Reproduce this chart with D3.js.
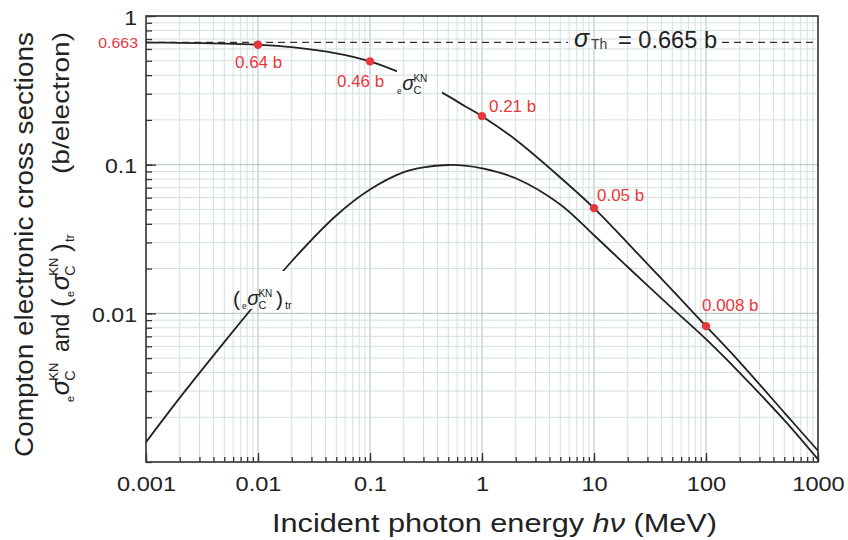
<!DOCTYPE html>
<html><head><meta charset="utf-8">
<script src="https://cdn.jsdelivr.net/npm/d3@7"></script>
<style>
body{margin:0;background:#fff}
svg{display:block}
text{font-family:"Liberation Sans",Arial,Helvetica,sans-serif;fill:#222}
</style>
</head><body>
<svg id="c" width="848" height="540"></svg>
<script>
// ---------- data ----------
const energies = [0.001,0.002,0.005,0.01,0.02,0.05,0.1,0.2,0.3,0.5,0.7,1,2,5,10,20,50,100,200,500,1000];
const sigmaKN  = [0.663,0.660,0.652,0.640,0.617,0.561,0.495,0.407,0.355,0.289,0.248,0.212,0.147,0.082,0.051,0.0297,0.0143,0.0082,0.0047,0.00215,0.00119];
const sigmaTr  = [0.00136,0.0027,0.0064,0.0121,0.0224,0.0455,0.068,0.089,0.096,0.0995,0.0985,0.0945,0.081,0.054,0.0335,0.0205,0.0108,0.0067,0.00398,0.00191,0.00104];
const xTickValues = [0.001,0.01,0.1,1,10,100,1000];
const xTickLabels = ["0.001","0.01","0.1","1","10","100","1000"];
const yTickValues = [1,0.1,0.01];
const yTickLabels = ["1","0.1","0.01"];
const markerEnergies = [0.01,0.1,1,10,100];
const markerValues   = [0.64,0.495,0.212,0.051,0.0082];
const markerLabels   = ["0.64 b","0.46 b","0.21 b","0.05 b","0.008 b"];
const thomsonValue = 0.665;
const thomsonLowLabel = "0.663";

// ---------- layout ----------
const X0 = 146, X1 = 818, Y0 = 462, Y1 = 16;
const RED = "#e8383d", INK = "#222";
const svg = d3.select("#c");
const x = d3.scaleLog().domain([0.001,1000]).range([X0,X1]);
const y = d3.scaleLog().domain([0.001,1]).range([Y0,Y1]);
const defs = svg.append("defs");
defs.append("clipPath").attr("id","plot").append("rect")
  .attr("x",X0).attr("y",Y1).attr("width",X1-X0).attr("height",Y0-Y1);
function makeMask(id, holes){
  const m = defs.append("mask").attr("id",id).attr("maskUnits","userSpaceOnUse")
    .attr("x",0).attr("y",0).attr("width",848).attr("height",540);
  m.append("rect").attr("width",848).attr("height",540).attr("fill","white");
  holes.forEach(h=>m.append("rect").attr("x",h[0]).attr("y",h[1]).attr("width",h[2]).attr("height",h[3]).attr("fill","black"));
}
makeMask("mKN", [[397,60,45,40]]);
makeMask("mTr", [[238,271,64,38]]);
makeMask("mTh", [[568,28,154,28]]);

// ---------- grid ----------
const isMajor = v => Math.abs(Math.log10(v) - Math.round(Math.log10(v))) < 1e-6;
const grid = svg.append("g");
grid.selectAll("line.gx").data(x.ticks()).join("line")
  .attr("x1",d=>x(d)).attr("x2",d=>x(d)).attr("y1",Y1).attr("y2",Y0)
  .attr("stroke",d=>isMajor(d)?"#aebfbf":"#d4e0e0").attr("stroke-width",1);
grid.selectAll("line.gy").data(y.ticks()).join("line")
  .attr("y1",d=>y(d)).attr("y2",d=>y(d)).attr("x1",X0).attr("x2",X1)
  .attr("stroke",d=>isMajor(d)?"#aebfbf":"#d4e0e0").attr("stroke-width",1);

// ---------- axes ----------
const gx = svg.append("g").attr("transform",`translate(0,${Y0})`);
gx.append("g").call(d3.axisBottom(x).tickValues(x.ticks()).tickSize(-5).tickFormat(""));
gx.append("g").call(d3.axisBottom(x).tickValues(xTickValues).tickSize(-9).tickFormat((d,i)=>xTickLabels[i]));
gx.selectAll(".domain").remove();
gx.selectAll("line").attr("stroke","#333").attr("stroke-width",1.3);
gx.selectAll("text").attr("y",null).attr("dy",null)
  .attr("transform","translate(0,29) scale(1.18,1)")
  .attr("font-size",20).attr("fill",INK).attr("font-family",null);

const gy = svg.append("g").attr("transform",`translate(${X0},0)`);
gy.append("g").call(d3.axisLeft(y).tickValues(y.ticks()).tickSize(-6).tickFormat(""));
gy.append("g").call(d3.axisLeft(y).tickValues(yTickValues).tickSize(-10).tickFormat((d,i)=>yTickLabels[i]));
gy.selectAll(".domain").remove();
gy.selectAll("line").attr("stroke","#333").attr("stroke-width",1.3);
gy.selectAll("text").attr("x",null).attr("dy",null)
  .attr("transform","translate(-9,8) scale(1.1,1)")
  .attr("font-size",21).attr("fill",INK).attr("font-family",null);

svg.append("rect").attr("x",X0).attr("y",Y1).attr("width",X1-X0).attr("height",Y0-Y1)
  .attr("fill","none").attr("stroke","#3a3a3a").attr("stroke-width",1.6);

// ---------- Thomson line ----------
svg.append("line").attr("x1",X0).attr("x2",X1-3).attr("y1",y(thomsonValue)).attr("y2",y(thomsonValue))
  .attr("stroke","#333").attr("stroke-width",1.3).attr("stroke-dasharray","7,5")
  .attr("mask","url(#mTh)");

// ---------- curves ----------
const line = d3.line().x(d=>x(d[0])).y(d=>y(d[1])).curve(d3.curveCatmullRom.alpha(0.5));
const plot = svg.append("g").attr("clip-path","url(#plot)");
plot.append("path").datum(energies.map((e,i)=>[e,sigmaKN[i]])).attr("d",line)
  .attr("fill","none").attr("stroke",INK).attr("stroke-width",1.8).attr("mask","url(#mKN)");
plot.append("path").datum(energies.map((e,i)=>[e,sigmaTr[i]])).attr("d",line)
  .attr("fill","none").attr("stroke",INK).attr("stroke-width",1.8).attr("mask","url(#mTr)");

// ---------- markers ----------
const labOff = [[-23,23],[-33,26],[7,-4],[3,-7],[-4,-15]];
svg.selectAll("circle.m").data(markerEnergies).join("circle")
  .attr("cx",d=>x(d)).attr("cy",(d,i)=>y(markerValues[i])).attr("r",4.2).attr("fill",RED);
markerEnergies.forEach((e,i)=>{
  svg.append("g").attr("transform",`translate(${x(e)+labOff[i][0]},${y(markerValues[i])+labOff[i][1]}) scale(1.06,1)`)
    .append("text").attr("font-size",16).style("fill",RED).text(markerLabels[i]);
});
svg.append("g").attr("transform",`translate(138,${y(thomsonValue)+6}) scale(1.06,1)`)
  .append("text").attr("text-anchor","end").attr("font-size",15).style("fill",RED).text(thomsonLowLabel);

// ---------- sigma symbol helper ----------
function sigmaSym(g, u, v, fs){
  g.append("text").attr("x",u).attr("y",v+fs*0.18).attr("font-size",fs*0.42).text("e");
  g.append("text").attr("x",u+fs*0.26).attr("y",v).attr("font-size",fs).attr("font-style","italic").text("σ");
  g.append("text").attr("x",u+fs*0.82).attr("y",v+fs*0.22).attr("font-size",fs*0.55).text("C");
  g.append("text").attr("x",u+fs*0.82).attr("y",v-fs*0.42).attr("font-size",fs*0.5).text("KN");
  return fs*1.62;
}

// KN label
sigmaSym(svg.append("g"), 397, 90, 20);
// tr label
const trg = svg.append("g");
trg.append("text").attr("x",233).attr("y",306).attr("font-size",21).text("(");
sigmaSym(trg, 242, 305, 20);
trg.append("text").attr("x",276).attr("y",306).attr("font-size",21).text(")");
trg.append("text").attr("x",285).attr("y",309).attr("font-size",11).text("tr");

// Thomson label
const thg = svg.append("g");
thg.append("text").attr("x",574).attr("y",47).attr("font-size",25).attr("font-style","italic").text("σ");
thg.append("text").attr("x",591).attr("y",49).attr("font-size",14).style("fill","#444").text("Th");
thg.append("text").attr("x",618).attr("y",48).attr("font-size",24)
  .attr("textLength",99).attr("lengthAdjust","spacingAndGlyphs").text("= 0.665 b");

// ---------- axis titles ----------
svg.append("text").attr("x",272).attr("y",532).attr("font-size",26)
  .attr("textLength",445).attr("lengthAdjust","spacingAndGlyphs")
  .call(t=>{ t.append("tspan").text("Incident photon energy ");
             t.append("tspan").attr("font-style","italic").text("hν");
             t.append("tspan").text(" (MeV)"); });

svg.append("g").attr("transform","translate(33,457) rotate(-90)")
  .append("text").attr("font-size",26).attr("textLength",425).attr("lengthAdjust","spacingAndGlyphs")
  .text("Compton electronic cross sections");

const t2 = svg.append("g").attr("transform","translate(69,402) rotate(-90)");
sigmaSym(t2, 0, 0, 26);
t2.append("text").attr("x",50).attr("y",0).attr("font-size",23).text("and");
t2.append("text").attr("x",95).attr("y",1).attr("font-size",26).text("(");
sigmaSym(t2, 105, 0, 26);
t2.append("text").attr("x",150).attr("y",1).attr("font-size",26).text(")");
t2.append("text").attr("x",160).attr("y",5).attr("font-size",13).text("tr");
t2.append("text").attr("x",228).attr("y",0).attr("font-size",24)
  .attr("textLength",142).attr("lengthAdjust","spacingAndGlyphs").text("(b/electron)");
</script>
</body></html>
